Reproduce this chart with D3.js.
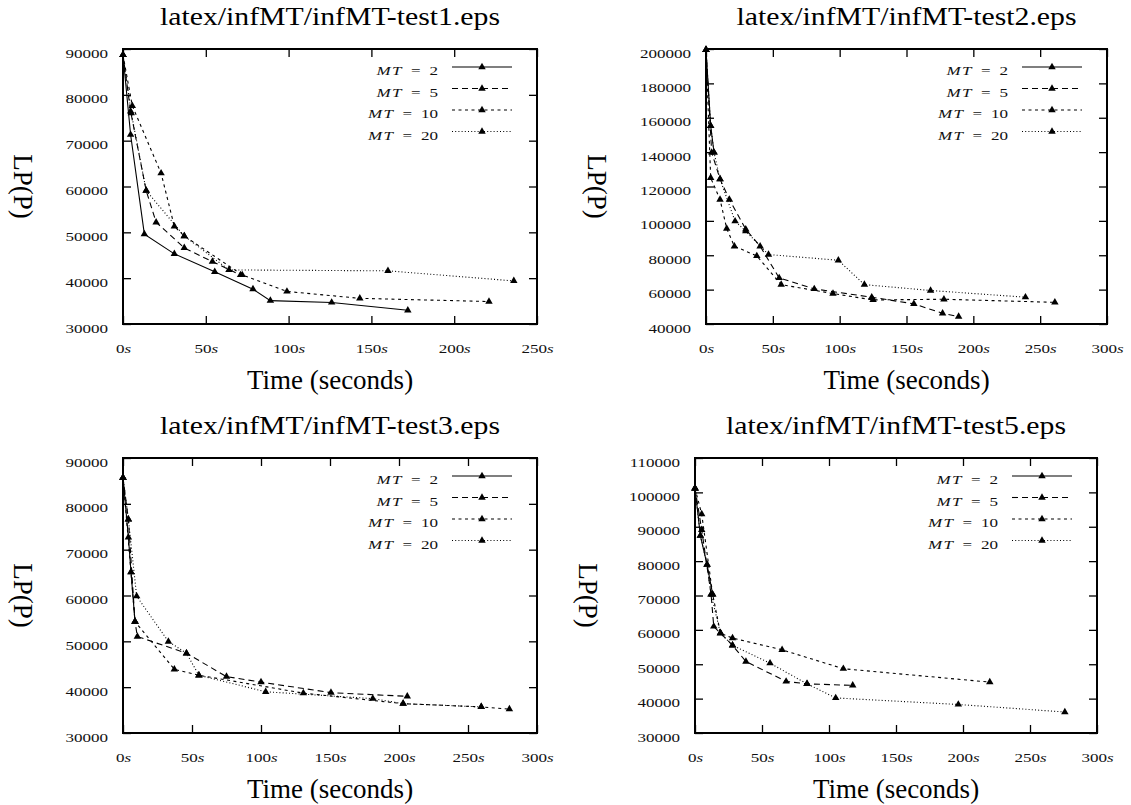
<!DOCTYPE html>
<html>
<head>
<meta charset="utf-8">
<script src="https://cdnjs.cloudflare.com/ajax/libs/d3/7.8.5/d3.min.js"></script>
<style>
  body { margin: 0; background: #fff; }
  svg { display: block; }
</style>
</head>
<body>
<div id="chart"></div>
<script>
// [seconds, LP(P)]
const test1Mt2  = [[0,88700],[4.6,71300],[12.9,49600],[31,45300],[55.4,41400],[78.5,37600],[89,35100],[126,34700],[172,33000]];
const test1Mt5  = [[0,88700],[4.6,76400],[14,59100],[20,52200],[37,46600],[54,43600],[71,40700]];
const test1Mt10 = [[0,88700],[5.6,77600],[23,62900],[31,51300],[37,49200],[72,40700],[99,37100],[143,35600],[221,34900]];
const test1Mt20 = [[0,88700],[5,76000],[14,59100],[37,49200],[64,41800],[160,41600],[236,39400]];

const test2Mt2  = [[0,199500],[3.5,155300],[6,139800]];
const test2Mt5  = [[0,199500],[4.25,139800],[10.5,124300],[17.5,112400],[29.75,95100],[40.5,85250],[54.75,66800],[81,60400],[124,55600],[155.5,51700],[177,46200],[189,44300]];
const test2Mt10 = [[0,199500],[3.5,125000],[10.5,112400],[15.5,95500],[21.25,85250],[38,79600],[56.25,62900],[95,57700],[125,54000],[178,54400],[261,52600]];
const test2Mt20 = [[0,199500],[3.5,155300],[6,139800],[10.5,124300],[21.75,99800],[29.75,94000],[46.75,80400],[99,77100],[118.5,62900],[168,59500],[239,55600]];

const test3Mt2  = [[0,85700],[3.9,72700],[5.8,65100],[8.7,54300]];
const test3Mt5  = [[0,85700],[3.9,76600],[8.7,54300],[10.4,51050],[46,47400],[75,42300],[100,41100],[150.7,38800],[206,38000]];
const test3Mt10 = [[0,85700],[5.8,65100],[8.7,54300],[37.2,43900],[55,42600],[130.7,38700],[203,36400],[259.6,35700],[280,35200]];
const test3Mt20 = [[0,85700],[3.9,76600],[9.9,59850],[32.9,49950],[46,47400],[55,42600],[103.4,39000],[181,37500],[203,36400],[259.6,35700]];

const test5Mt2  = [[0,101200],[4,87400],[9,79000],[13.2,70300]];
const test5Mt5  = [[0,101200],[5,89100],[12,70300],[14,61000],[19,59050],[28,55500],[38,50800],[68,45000],[83.6,44300],[117.7,43850]];
const test5Mt10 = [[0,101200],[5,93700],[13.2,70300],[19,59050],[28,57600],[65,54200],[110.7,48700],[220,44800]];
const test5Mt20 = [[0,101200],[4,87400],[9,79000],[12,70300],[19,59050],[28,55500],[56,50300],[83.6,44300],[105,40200],[196.5,38300],[276,36100]];

const mtValues = ["2", "5", "10", "20"];
const xTicks250 = [0, 50, 100, 150, 200, 250];
const xTicks300 = [0, 50, 100, 150, 200, 250, 300];
const yTicksTest1 = [30000, 40000, 50000, 60000, 70000, 80000, 90000];
const yTicksTest2 = [40000, 60000, 80000, 100000, 120000, 140000, 160000, 180000, 200000];
const yTicksTest3 = [30000, 40000, 50000, 60000, 70000, 80000, 90000];
const yTicksTest5 = [30000, 40000, 50000, 60000, 70000, 80000, 90000, 100000, 110000];

// line style per MT setting: solid, long dash, short dash, dotted
const dashes = [null, "6,4", "3,3.5", "1,2.2"];

const panels = [
  {title: "latex/infMT/infMT-test1.eps", left: 123, right: 537, top: 49, bottom: 324,
   xTicks: xTicks250, yTicks: yTicksTest1, yLabelX: 14, series: [test1Mt2, test1Mt5, test1Mt10, test1Mt20]},
  {title: "latex/infMT/infMT-test2.eps", left: 706, right: 1107, top: 49, bottom: 324,
   xTicks: xTicks300, yTicks: yTicksTest2, yLabelX: 588, series: [test2Mt2, test2Mt5, test2Mt10, test2Mt20]},
  {title: "latex/infMT/infMT-test3.eps", left: 123, right: 537, top: 458, bottom: 733,
   xTicks: xTicks300, yTicks: yTicksTest3, yLabelX: 14, series: [test3Mt2, test3Mt5, test3Mt10, test3Mt20]},
  {title: "latex/infMT/infMT-test5.eps", left: 695, right: 1097, top: 458, bottom: 733,
   xTicks: xTicks300, yTicks: yTicksTest5, yLabelX: 579, series: [test5Mt2, test5Mt5, test5Mt10, test5Mt20]}
];

const serif = "'Liberation Serif', 'Times New Roman', serif";
const SX = 1.36; // the eps text is stretched sideways

const svg = d3.select("#chart")
  .append("svg")
    .attr("width", 1131)
    .attr("height", 805);

const triangle = d3.symbol(d3.symbolTriangle, 24);

panels.forEach(function(p) {
  const x = d3.scaleLinear()
    .domain([0, d3.max(p.xTicks)])
    .range([p.left, p.right]);
  const y = d3.scaleLinear()
    .domain(d3.extent(p.yTicks))
    .range([p.bottom, p.top]);

  const g = svg.append("g");

  // bottom axis with labels, ticks pointing inward
  const bottomAx = g.append("g")
    .attr("transform", "translate(0," + p.bottom + ")")
    .call(d3.axisBottom(x).tickValues(p.xTicks).tickSize(-8).tickPadding(20));
  bottomAx.select(".domain").remove();
  bottomAx.selectAll(".tick line").attr("stroke-width", 1.3);
  bottomAx.selectAll(".tick text")
    .attr("font-family", serif)
    .attr("font-size", 12.5)
    .attr("fill", "#111")
    .attr("transform", "scale(" + SX + ",1)")
    .each(function(d) {
      const t = d3.select(this);
      t.text(null);
      t.append("tspan").text(d);
      t.append("tspan").attr("font-style", "italic").text("s");
    });

  // left axis
  const leftAx = g.append("g")
    .attr("transform", "translate(" + p.left + ",0)")
    .call(d3.axisLeft(y).tickValues(p.yTicks).tickSize(-8).tickFormat(d3.format("d")));
  leftAx.select(".domain").remove();
  leftAx.selectAll(".tick line").attr("stroke-width", 1.3);
  leftAx.selectAll(".tick text")
    .attr("font-family", serif)
    .attr("font-size", 12.5)
    .attr("fill", "#111")
    .attr("x", -15 / SX)
    .attr("y", 4)
    .attr("transform", "scale(" + SX + ",1)");

  // mirrored ticks on top and right
  const topAx = g.append("g")
    .attr("transform", "translate(0," + p.top + ")")
    .call(d3.axisTop(x).tickValues(p.xTicks).tickSize(-8).tickFormat(""));
  topAx.select(".domain").remove();
  topAx.selectAll(".tick line").attr("stroke-width", 1.3);

  const rightAx = g.append("g")
    .attr("transform", "translate(" + p.right + ",0)")
    .call(d3.axisRight(y).tickValues(p.yTicks).tickSize(-8).tickFormat(""));
  rightAx.select(".domain").remove();
  rightAx.selectAll(".tick line").attr("stroke-width", 1.3);

  // frame
  g.append("rect")
    .attr("x", p.left)
    .attr("y", p.top)
    .attr("width", p.right - p.left)
    .attr("height", p.bottom - p.top)
    .attr("fill", "none")
    .attr("stroke", "#000")
    .attr("stroke-width", 2);

  // series lines and markers
  const line = d3.line()
    .x(function(d) { return x(d[0]); })
    .y(function(d) { return y(d[1]); });

  p.series.forEach(function(s, i) {
    g.append("path")
      .datum(s)
      .attr("d", line)
      .attr("fill", "none")
      .attr("stroke", "#000")
      .attr("stroke-width", 1.1)
      .attr("stroke-dasharray", dashes[i]);

    g.selectAll(".m" + i)
      .data(s)
      .enter()
      .append("path")
        .attr("d", triangle)
        .attr("transform", function(d) { return "translate(" + x(d[0]) + "," + y(d[1]) + ")"; })
        .attr("fill", "#000");
  });

  // legend (key) in the top right corner
  mtValues.forEach(function(mt, i) {
    const rowY = p.top + 18 + i * 21.5;
    const label = g.append("text")
      .attr("transform", "translate(" + (p.right - 99) + "," + (rowY + 8) + ") scale(" + SX + ",1)")
      .attr("text-anchor", "end")
      .attr("font-family", serif)
      .attr("font-size", 12.5)
      .attr("fill", "#111");
    label.append("tspan").attr("font-style", "italic").text("M");
    label.append("tspan").attr("font-style", "italic").attr("dx", 1).text("T");
    label.append("tspan").attr("dx", 7).text("=");
    label.append("tspan").attr("dx", 6.5).text(mt);

    g.append("line")
      .attr("x1", p.right - 85)
      .attr("x2", p.right - 25)
      .attr("y1", rowY)
      .attr("y2", rowY)
      .attr("stroke", "#000")
      .attr("stroke-width", 1.1)
      .attr("stroke-dasharray", dashes[i]);

    g.append("path")
      .attr("d", triangle)
      .attr("transform", "translate(" + (p.right - 55) + "," + rowY + ")")
      .attr("fill", "#000");
  });

  // titles and axis labels
  g.append("text")
    .attr("x", (p.left + p.right) / 2)
    .attr("y", p.top - 24)
    .attr("text-anchor", "middle")
    .attr("font-family", serif)
    .attr("font-size", 24.5)
    .attr("textLength", 340)
    .attr("lengthAdjust", "spacingAndGlyphs")
    .text(p.title);

  g.append("text")
    .attr("x", (p.left + p.right) / 2)
    .attr("y", p.bottom + 65)
    .attr("text-anchor", "middle")
    .attr("font-family", serif)
    .attr("font-size", 27)
    .text("Time (seconds)");

  g.append("text")
    .attr("transform", "translate(" + p.yLabelX + "," + ((p.top + p.bottom) / 2) + ") rotate(90)")
    .attr("text-anchor", "middle")
    .attr("font-family", serif)
    .attr("font-size", 27)
    .text("LP(P)");
});
</script>
</body>
</html>
